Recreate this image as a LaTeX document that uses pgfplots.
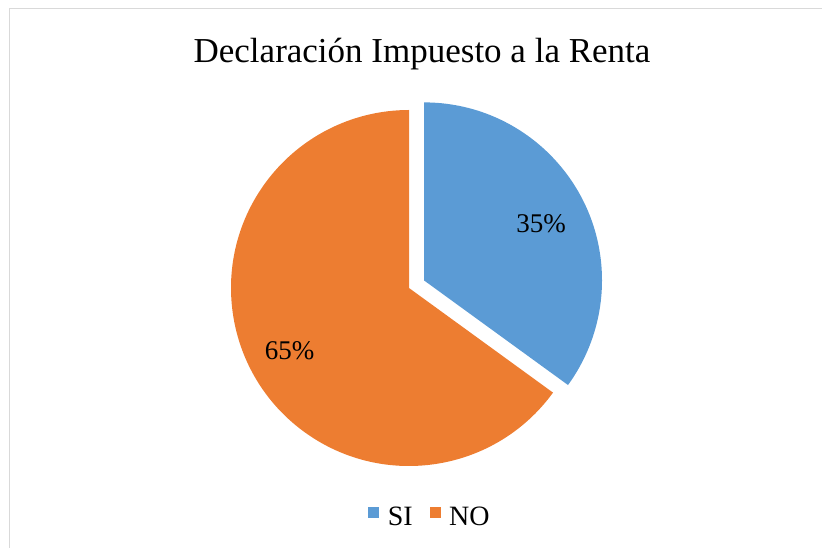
\documentclass[border=0pt]{standalone}
\usepackage{fontspec}
\setmainfont{Liberation Serif}
\usepackage{pgfplots}
\usepackage{pgfplotstable}
\pgfplotsset{compat=1.18}
\definecolor{blueC}{HTML}{5B9BD5}
\definecolor{orangeC}{HTML}{ED7D31}
\definecolor{frameC}{HTML}{D9D9D9}
\pgfplotstableread{
label value
SI 35
NO 65
}\piedata
\begin{document}
\begin{tikzpicture}
\pgfplotstablegetelem{0}{value}\of\piedata
\pgfmathsetmacro\vSI{\pgfplotsretval}
\pgfmathsetmacro\aEnd{90-3.6*\vSI}
\begin{axis}[
  width=822bp, height=548bp, scale only axis,
  xmin=0, xmax=822, ymin=0, ymax=548,
  hide axis, clip=false,
  legend columns=2,
  legend style={draw=none, fill=none, at={(axis cs:430,31)}, anchor=center,
    font=\fontsize{28bp}{32bp}\selectfont,
    /tikz/every even column/.append style={column sep=15bp}},
]
% border
\draw[frameC, line width=1bp] (axis cs:9,0) -- (axis cs:9,539) -- (axis cs:822,539);
% NO slice
\fill[orangeC] (axis cs:409,260) -- ++(\aEnd:178bp) arc[start angle=\aEnd, end angle=-270, radius=178bp] -- cycle;
% SI slice (exploded)
\fill[blueC] (axis cs:424,267.6) -- ++(90:178bp) arc[start angle=90, end angle=\aEnd, radius=178bp] -- cycle;
% labels
\node[anchor=base, font=\fontsize{27bp}{32bp}\selectfont] at (axis cs:541,315) {35\%};
\node[anchor=base, font=\fontsize{27bp}{32bp}\selectfont] at (axis cs:289.5,188.7) {65\%};
% title
\node[anchor=base, font=\fontsize{35bp}{40bp}\selectfont] at (axis cs:422,485.7) {Declaración Impuesto a la Renta};
% legend
\addlegendimage{legend image code/.code={\fill[blueC,draw=none] (0bp,-1bp) rectangle (11bp,10bp); \path[draw=none,fill=none] (17.5bp,4bp);}}
\addlegendentry{SI}
\addlegendimage{legend image code/.code={\fill[orangeC,draw=none] (0bp,-1bp) rectangle (11bp,10bp); \path[draw=none,fill=none] (17.5bp,4bp);}}
\addlegendentry{NO}
\end{axis}
\pgfresetboundingbox
\path (current axis.south west) rectangle (current axis.north east);
\end{tikzpicture}
\end{document}
